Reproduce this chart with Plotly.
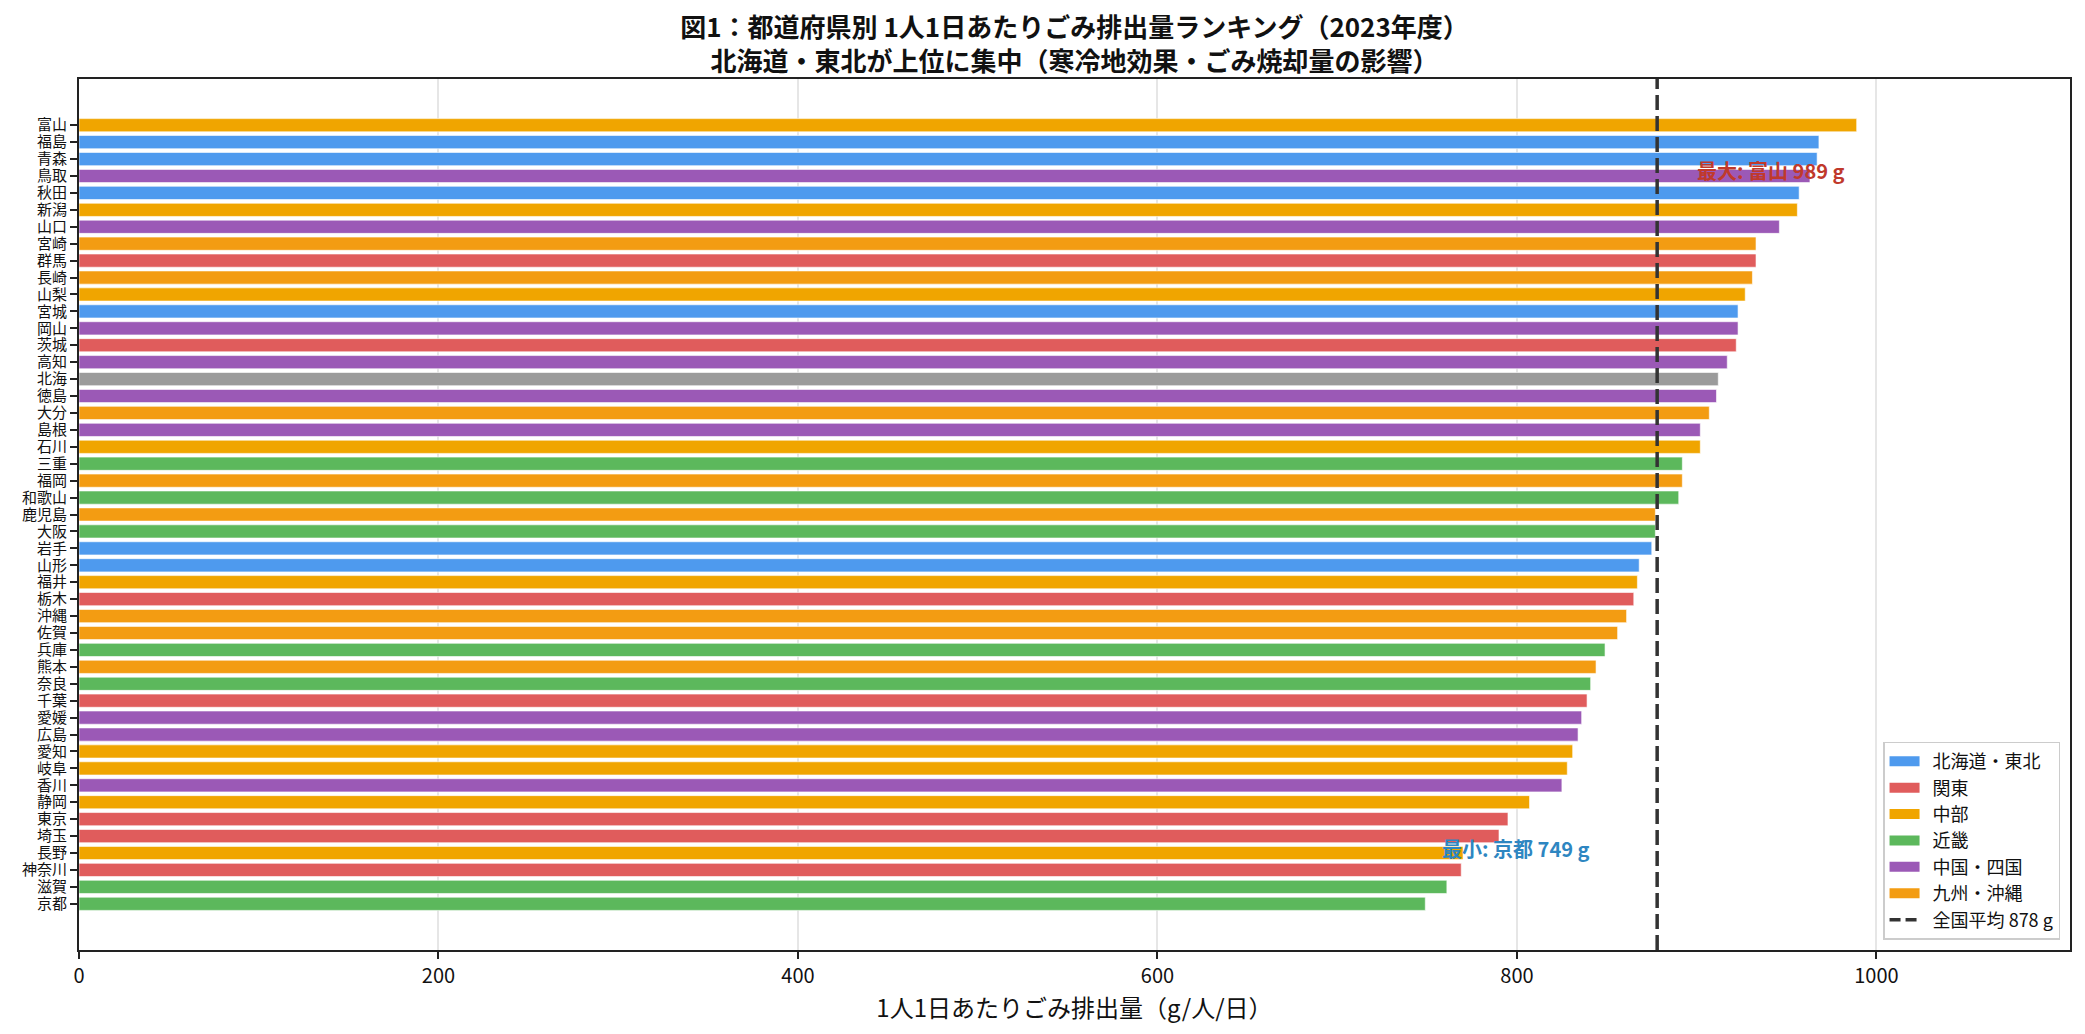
import plotly.graph_objects as go

# 1人1日あたりごみ排出量 (g/人/日)、多い順
prefs = ["富山", "福島", "青森", "鳥取", "秋田", "新潟", "山口", "宮崎", "群馬", "長崎",
         "山梨", "宮城", "岡山", "茨城", "高知", "北海", "徳島", "大分", "島根", "石川",
         "三重", "福岡", "和歌山", "鹿児島", "大阪", "岩手", "山形", "福井", "栃木", "沖縄",
         "佐賀", "兵庫", "熊本", "奈良", "千葉", "愛媛", "広島", "愛知", "岐阜", "香川",
         "静岡", "東京", "埼玉", "長野", "神奈川", "滋賀", "京都"]
values = [989, 968, 967, 963, 957, 956, 946, 933, 933, 931,
          927, 923, 923, 922, 917, 912, 911, 907, 902, 902,
          892, 892, 890, 877, 877, 875, 868, 867, 865, 861,
          856, 849, 844, 841, 839, 836, 834, 831, 828, 825,
          807, 795, 790, 770, 769, 761, 749]
regions = ["中部", "北海道・東北", "北海道・東北", "中国・四国", "北海道・東北", "中部", "中国・四国", "九州・沖縄", "関東", "九州・沖縄",
           "中部", "北海道・東北", "中国・四国", "関東", "中国・四国", "その他", "中国・四国", "九州・沖縄", "中国・四国", "中部",
           "近畿", "九州・沖縄", "近畿", "九州・沖縄", "近畿", "北海道・東北", "北海道・東北", "中部", "関東", "九州・沖縄",
           "九州・沖縄", "近畿", "九州・沖縄", "近畿", "関東", "中国・四国", "中国・四国", "中部", "中部", "中国・四国",
           "中部", "関東", "関東", "中部", "関東", "近畿", "近畿"]
national_avg = 878

region_colors = {
    "北海道・東北": "#4e9aee",
    "関東": "#e05c5c",
    "中部": "#f0a500",
    "近畿": "#5cb85c",
    "中国・四国": "#9b59b6",
    "九州・沖縄": "#f39c12",
    "その他": "#9b9b9b",
}

font = "Noto Sans CJK JP"
pad = "\u00a0\u00a0"  # gap between legend swatch and text
fig = go.Figure()

# bars (legend is drawn by the thick-line dummies below, to get wide swatches)
for reg, col in region_colors.items():
    ys = [p for p, r in zip(prefs, regions) if r == reg]
    xs = [v for v, r in zip(values, regions) if r == reg]
    fig.add_trace(go.Bar(
        x=xs, y=ys, orientation="h", name=reg,
        marker=dict(color=col, line=dict(color="white", width=0.6)),
        width=0.78, showlegend=False,
    ))

for reg, col in region_colors.items():
    if reg == "その他":
        continue
    fig.add_trace(go.Scatter(
        x=[None], y=[None], mode="lines", name=pad + reg,
        line=dict(color=col, width=12),
    ))

fig.add_trace(go.Scatter(
    x=[None], y=[None], mode="lines", name=f"{pad}全国平均 {national_avg} g",
    line=dict(color="#333333", width=3.5, dash="11px,5px"),
))

fig.add_shape(type="line", xref="x", yref="paper", x0=national_avg, x1=national_avg,
              y0=0, y1=1, line=dict(color="#333333", width=3.5, dash="15px,6px"),
              layer="above")

imax = values.index(max(values))
imin = values.index(min(values))
fig.add_annotation(x=values[imax] - 90, y=prefs[imax + 3], xanchor="left", yanchor="middle",
                   yshift=5, showarrow=False,
                   text=f"<b>最大: {prefs[imax]} {values[imax]} g</b>",
                   font=dict(color="#c0392b", size=20, family=font))
fig.add_annotation(x=values[imin] + 8, y=prefs[imin - 3], xanchor="left", yanchor="middle",
                   yshift=5, showarrow=False,
                   text=f"<b>最小: {prefs[imin]} {values[imin]} g</b>",
                   font=dict(color="#2e86c1", size=20, family=font))

n = len(prefs)
# page body has an 8px margin, so the figure is sized 8px smaller
fig.update_layout(
    width=2077, height=1026,
    margin=dict(l=71, r=15, t=71, b=84),
    paper_bgcolor="white", plot_bgcolor="white",
    barmode="overlay",
    font=dict(family=font, color="#111111"),
    title=dict(
        text="<b>図1：都道府県別 1人1日あたりごみ排出量ランキング（2023年度）<br>北海道・東北が上位に集中（寒冷地効果・ごみ焼却量の影響）</b>",
        x=0.5, xref="paper", xanchor="center", y=0.972, yanchor="top",
        font=dict(size=26, family=font, color="#111111"),
    ),
    xaxis=dict(
        range=[0, max(values) * 1.12], tickvals=[0, 200, 400, 600, 800, 1000],
        showgrid=True, gridcolor="#e6e6e6", gridwidth=1.5, zeroline=False,
        showline=True, linecolor="#222222", linewidth=2, mirror=True,
        ticks="outside", ticklen=7, tickwidth=2, tickcolor="#222222",
        tickfont=dict(size=20),
        title=dict(text="1人1日あたりごみ排出量（g/人/日）", font=dict(size=24), standoff=6),
    ),
    yaxis=dict(
        type="category", categoryorder="array", categoryarray=prefs[::-1],
        tickmode="array", tickvals=prefs, ticktext=prefs,
        range=[-2.73, n - 1 + 2.73], showgrid=False, zeroline=False,
        showline=True, linecolor="#222222", linewidth=2, mirror=True,
        ticks="outside", ticklen=7, tickwidth=2, tickcolor="#222222",
        tickfont=dict(size=15),
    ),
    legend=dict(
        x=0.995, y=0.012, xanchor="right", yanchor="bottom",
        bgcolor="rgba(255,255,255,0.9)", bordercolor="#cccccc", borderwidth=1.5,
        font=dict(size=18), tracegroupgap=0,
    ),
)

fig.write_html("out.html")
